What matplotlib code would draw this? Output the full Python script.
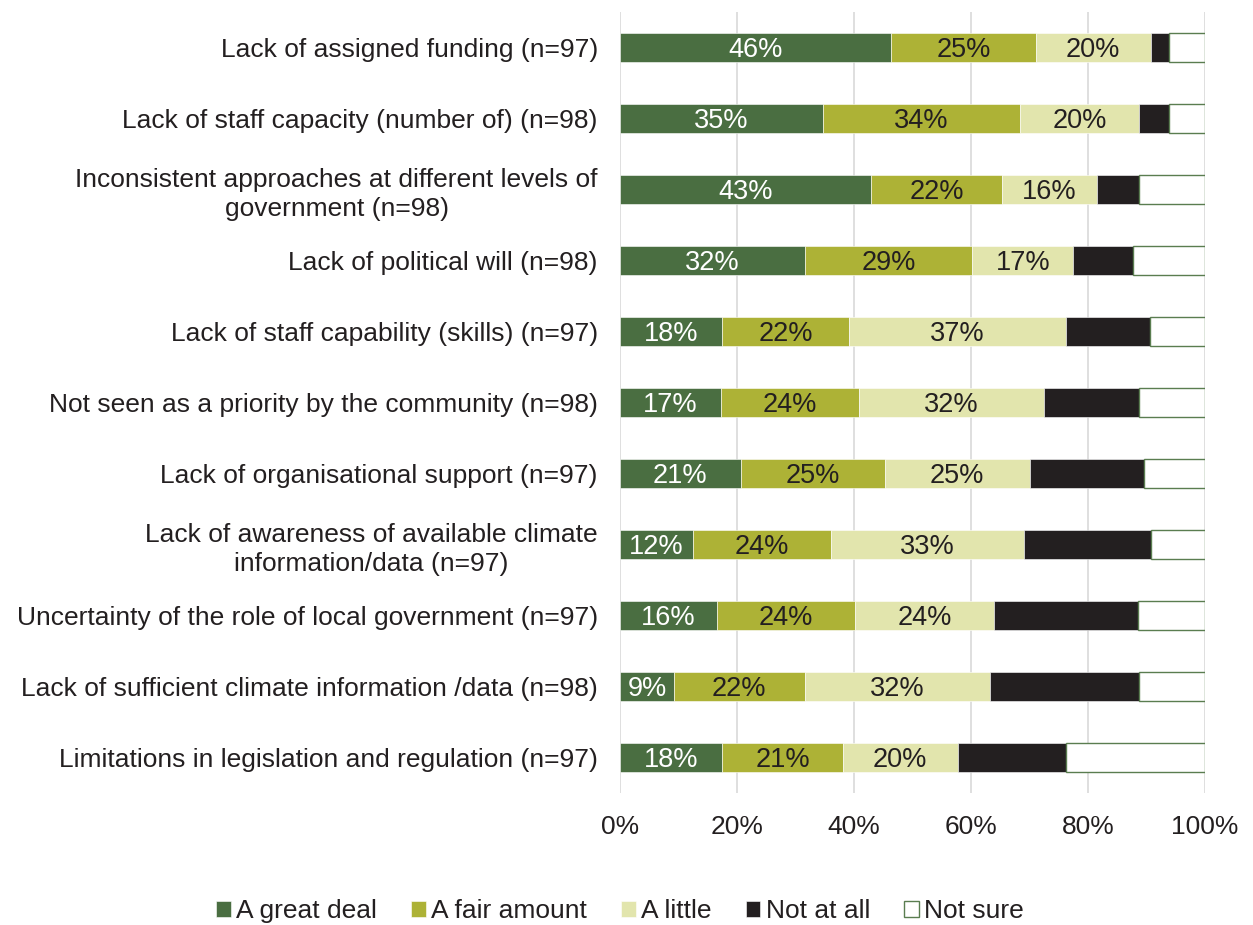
import numpy as np
import matplotlib
matplotlib.use("Agg")
import matplotlib.pyplot as plt

plt.rcParams["font.family"] = ["Liberation Sans", "DejaVu Sans"]

categories = [
    "Lack of assigned funding (n=97)",
    "Lack of staff capacity (number of) (n=98)",
    "Inconsistent approaches at different levels of\ngovernment (n=98)",
    "Lack of political will (n=98)",
    "Lack of staff capability (skills) (n=97)",
    "Not seen as a priority by the community (n=98)",
    "Lack of organisational support (n=97)",
    "Lack of awareness of available climate\ninformation/data (n=97)",
    "Uncertainty of the role of local government (n=97)",
    "Lack of sufficient climate information /data (n=98)",
    "Limitations in legislation and regulation (n=97)",
]
great_deal = [46.4, 34.7, 42.9, 31.6, 17.5, 17.3, 20.6, 12.4, 16.5, 9.2, 17.5]
fair_amount = [24.7, 33.7, 22.4, 28.6, 21.6, 23.5, 24.7, 23.7, 23.7, 22.4, 20.6]
a_little = [19.6, 20.4, 16.3, 17.3, 37.1, 31.6, 24.7, 33.0, 23.7, 31.6, 19.6]
not_at_all = [3.1, 5.1, 7.1, 10.2, 14.4, 16.3, 19.6, 21.6, 24.7, 25.5, 18.6]
not_sure = [6.2, 6.1, 11.3, 12.3, 9.4, 11.3, 10.4, 9.3, 11.4, 11.3, 23.7]

series = [
    ("A great deal", great_deal, "#4a6e41", "white", True),
    ("A fair amount", fair_amount, "#adb236", "#231f20", True),
    ("A little", a_little, "#e2e5ad", "#231f20", True),
    ("Not at all", not_at_all, "#231f20", "#231f20", False),
    ("Not sure", not_sure, "white", "#231f20", False),
]

fig = plt.figure(figsize=(12.53, 9.25), dpi=100)
ax = fig.add_axes([620 / 1253, 1 - 793 / 925, 585 / 1253, 781 / 925])

y = np.arange(len(categories))
left = np.zeros(len(categories))
for name, vals, color, tcolor, show in series:
    vals = np.array(vals)
    if name == "Not sure":
        bars = ax.barh(y, vals, left=left, height=0.42, color=color,
                       edgecolor="#5a7d50", linewidth=1.0, label=name, zorder=3)
    else:
        bars = ax.barh(y, vals, left=left, height=0.42, color=color,
                       edgecolor="white", linewidth=0.4, label=name, zorder=3)
    if show:
        for b, v in zip(bars, vals):
            ax.text(b.get_x() + b.get_width() / 2, b.get_y() + b.get_height() / 2 + 0.03,
                    f"{round(v):.0f}%", ha="center", va="center",
                    color=tcolor, fontsize=19.5, zorder=4)
    left += vals

ax.set_xlim(0, 100)
ax.set_ylim(len(categories) - 0.5, -0.5)
ax.set_yticks(y)
ax.set_yticklabels(categories, fontsize=19, color="#231f20", linespacing=1.25)
ax.set_xticks(np.arange(0, 101, 20))
ax.set_xticklabels([f"{t}%" for t in range(0, 101, 20)], fontsize=19, color="#231f20")
ax.tick_params(axis="both", length=0)
ax.tick_params(axis="y", pad=16)
ax.tick_params(axis="x", pad=16)
for lbl in ax.get_yticklabels():
    lbl.set_multialignment("center")
for s in ax.spines.values():
    s.set_visible(False)
ax.grid(axis="x", color="#d9d9d9", linewidth=1.2, zorder=0)
ax.set_axisbelow(True)

handles, labels = ax.get_legend_handles_labels()
fig.legend(handles, labels, loc="center", bbox_to_anchor=(620 / 1253, 1 - 911 / 925),
           ncol=5, frameon=False, fontsize=19, handlelength=0.55, handleheight=0.55,
           handletextpad=0.2, columnspacing=1.3, labelcolor="#231f20")

fig.savefig("out.png", dpi=100)
